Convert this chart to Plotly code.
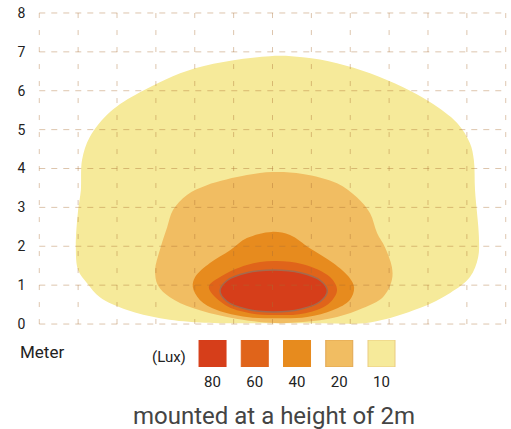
import plotly.graph_objects as go

# isolux contours (metres)
x10 = [6.0, 4.13, 3.11, 2.26, 1.56, 1.23, 1.00, 0.94, 1.00, 1.07, 1.10, 1.30, 1.82, 2.59, 4.01, 5.93, 6.78, 7.66, 8.51,
       9.36, 10.05, 10.75, 11.08, 11.18, 11.21, 11.31, 11.29, 11.08, 10.57, 9.79, 8.51, 7.2, 6.0]
y10 = [0.02, 0.04, 0.15, 0.36, 0.69, 1.05, 1.39, 1.98, 2.93, 3.44, 4.22, 4.81, 5.45, 5.96, 6.58, 6.89, 6.86, 6.71, 6.45,
       6.09, 5.71, 5.17, 4.65, 4.22, 3.44, 2.24, 1.72, 1.21, 0.80, 0.41, 0.04, 0.02, 0.02]

x20 = [5.93, 4.83, 3.95, 3.36, 3.05, 2.98, 3.10, 3.29, 3.44, 3.80, 4.31, 5.34, 6.0, 6.78, 7.66, 8.17, 8.51, 8.69, 8.89,
       9.07, 9.07, 8.84, 8.33, 7.66, 6.78, 5.93]
y20 = [0.03, 0.18, 0.41, 0.69, 1.00, 1.39, 1.90, 2.49, 2.93, 3.32, 3.57, 3.83, 3.91, 3.86, 3.62, 3.26, 2.85, 2.34, 1.98,
       1.47, 1.13, 0.69, 0.41, 0.18, 0.05, 0.03]

x40 = [6.11, 5.34, 4.57, 4.13, 3.95, 4.01, 4.39, 4.91, 5.34, 5.98, 6.45, 6.96, 7.56, 7.99, 8.10, 7.99, 7.56, 6.89, 6.11]
y40 = [0.15, 0.18, 0.36, 0.62, 0.95, 1.21, 1.57, 1.90, 2.21, 2.37, 2.29, 1.95, 1.57, 1.18, 0.93, 0.62, 0.36, 0.18, 0.15]

x60 = [6.06, 5.42, 4.78, 4.36, 4.65, 5.34, 6.03, 6.78, 7.48, 7.66, 7.43, 6.84, 6.06]
y60 = [0.23, 0.28, 0.49, 0.95, 1.21, 1.52, 1.62, 1.54, 1.21, 0.87, 0.51, 0.28, 0.23]

x80 = [6.03, 5.34, 4.83, 4.65, 4.83, 5.34, 6.03, 6.72, 7.23, 7.41, 7.23, 6.72, 6.03]
y80 = [0.31, 0.38, 0.58, 0.85, 1.12, 1.32, 1.39, 1.32, 1.12, 0.85, 0.58, 0.38, 0.31]

x_ticks = list(range(13))
y_ticks = list(range(9))

lux_labels = ['80', '60', '40', '20', '10']
lux_colors = ['#D63E1A', '#E0641A', '#E78B1E', '#F1BD62', '#F6EA9A']
lux_edges = ['#D63E1A', '#E0641A', '#E78B1E', '#E2A650', '#EACB80']

fig = go.Figure()

# contours, outermost first
contours = [(x10, y10), (x20, y20), (x40, y40), (x60, y60), (x80, y80)]
for (cx, cy), col in zip(contours, reversed(lux_colors)):
    is_80 = col == lux_colors[0]
    fig.add_trace(go.Scatter(
        x=cx, y=cy, mode='lines', fill='toself', fillcolor=col,
        line=dict(shape='spline', smoothing=1.0,
                  color='#A46A4E' if is_80 else col, width=1.5 if is_80 else 0),
        hoverinfo='skip', showlegend=False))

# dashed grid on top of the fills
gx, gy = [], []
for k in x_ticks:
    gx += [k, k, None]
    gy += [y_ticks[0], y_ticks[-1], None]
fig.add_trace(go.Scatter(x=gx, y=gy, mode='lines', hoverinfo='skip', showlegend=False,
                         line=dict(color='rgba(170,110,50,0.4)', width=1, dash='5px,12px')))
hx, hy = [], []
for k in y_ticks:
    hx += [x_ticks[0], x_ticks[-1], None]
    hy += [k, k, None]
fig.add_trace(go.Scatter(x=hx, y=hy, mode='lines', hoverinfo='skip', showlegend=False,
                         line=dict(color='rgba(170,110,50,0.4)', width=1, dash='6px,6px')))

# colour key
fig.add_trace(go.Scatter(
    x=lux_labels, y=[0] * len(lux_labels), mode='markers', xaxis='x2', yaxis='y2',
    marker=dict(symbol='square', size=27, color=lux_colors, line=dict(color=lux_edges, width=1)),
    hoverinfo='skip', showlegend=False))

fig.update_layout(
    template='none',
    width=511, height=429,
    margin=dict(l=0, r=0, t=0, b=0, autoexpand=False),
    paper_bgcolor='white', plot_bgcolor='white',
    font=dict(family='Roboto', color='#222'),
    xaxis=dict(domain=[0.07456, 0.99198], range=[-0.03, 12.03], visible=False, automargin=False),
    yaxis=dict(domain=[0.24196, 0.97249], range=[-0.03, 8.03], tickvals=y_ticks, automargin=False,
               showgrid=False, zeroline=False, showline=False, ticklabeloverflow='allow',
               ticks='outside', ticklen=9, tickcolor='rgba(0,0,0,0)',
               tickfont=dict(size=14, color='#222')),
    xaxis2=dict(domain=[0.3746, 0.7879], type='category', categoryorder='array', categoryarray=lux_labels,
                range=[-0.5, 4.5], showgrid=False, zeroline=False, showline=False, automargin=False,
                ticks='outside', ticklen=1, tickcolor='rgba(0,0,0,0)',
                tickfont=dict(size=15, color='#222'), anchor='y2'),
    yaxis2=dict(domain=[0.14452, 0.20746], range=[-0.5, 0.5], visible=False, anchor='x2', automargin=False),
    annotations=[
        dict(text='Meter', x=0.0352, y=0.1795, xref='paper', yref='paper', xanchor='left', yanchor='middle',
             showarrow=False, font=dict(size=17, color='#222')),
        dict(text='(Lux)', x=0.2935, y=0.1667, xref='paper', yref='paper', xanchor='left', yanchor='middle',
             showarrow=False, font=dict(size=15, color='#222')),
        dict(text='mounted at a height of 2m', x=0.5362, y=0.0303, xref='paper', yref='paper',
             xanchor='center', yanchor='middle', showarrow=False, font=dict(size=24, color='#444')),
    ],
)

# drop the page's default body margin so the figure sits at the window corner
fig.write_html('out.html', config={'displayModeBar': False},
               post_script="document.body.style.margin='0';")
